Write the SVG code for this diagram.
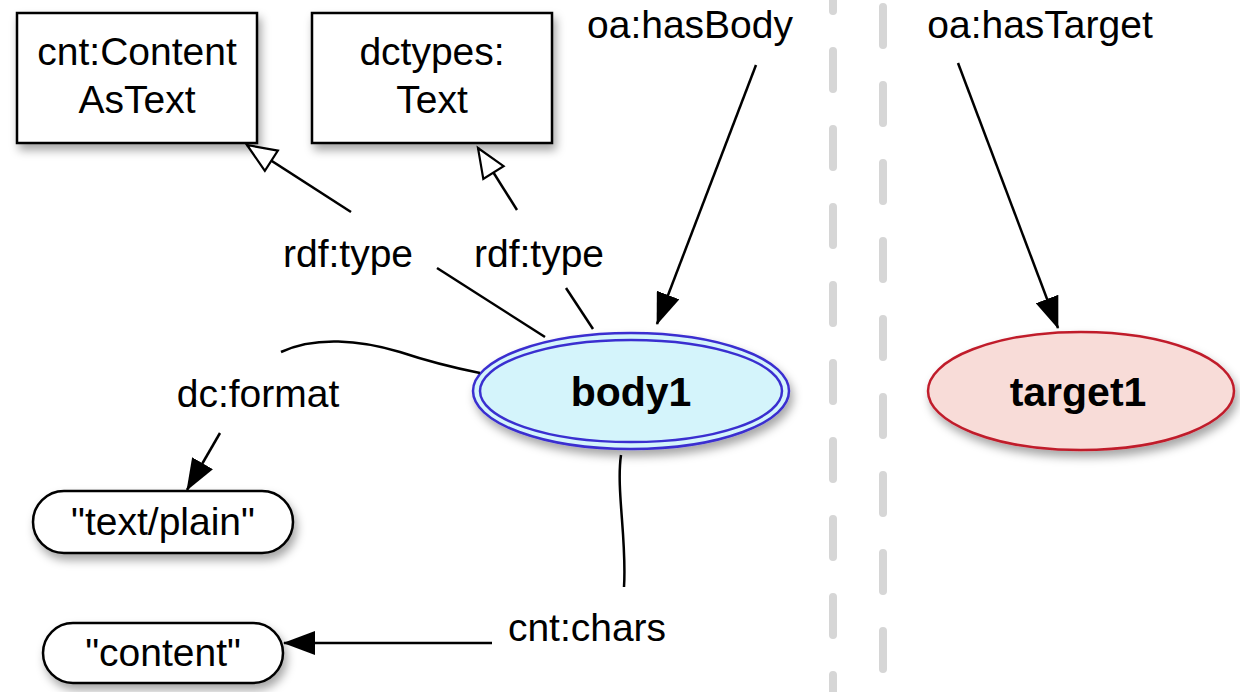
<svg xmlns="http://www.w3.org/2000/svg" width="1240" height="692" viewBox="0 0 1240 692">
<defs>
<style>
text{font-family:"Liberation Sans",Arial,sans-serif;fill:#000;}
.lbl{font-size:39px;text-anchor:middle;}
.bold{font-size:41px;font-weight:bold;text-anchor:middle;}
.edge{fill:none;stroke:#000;stroke-width:2.5;}
.sep{fill:none;stroke:#d6d6d6;stroke-width:8;stroke-linecap:round;stroke-dasharray:38 40;}
.box{fill:#fff;stroke:#000;stroke-width:2.5;}
</style>
<filter id="sh" x="-20%" y="-20%" width="150%" height="160%">
<feDropShadow dx="3" dy="6" stdDeviation="5" flood-color="#000" flood-opacity="0.35"/>
</filter>
<marker id="solid" markerUnits="userSpaceOnUse" viewBox="0 0 32 24" markerWidth="32" markerHeight="24" refX="31" refY="12" orient="auto">
<path d="M0,0 L32,12 L0,24 z" fill="#000"/>
</marker>
<marker id="open" markerUnits="userSpaceOnUse" viewBox="0 0 34 28" markerWidth="34" markerHeight="28" refX="31" refY="14" orient="auto">
<path d="M2,2 L31,14 L2,26 z" fill="#fff" stroke="#000" stroke-width="2.2"/>
</marker>
</defs>
<rect width="1240" height="692" fill="#fff"/>

<g id="separators">
<line class="sep" x1="833" y1="-27" x2="833" y2="700"/>
<line class="sep" x1="883" y1="7" x2="883" y2="700"/>
</g>

<g id="node-ContentAsText">
<rect class="box" x="17" y="13" width="240" height="130" filter="url(#sh)"/>
<text class="lbl" x="137" y="65">cnt:Content</text>
<text class="lbl" x="137" y="113">AsText</text>
</g>
<g id="node-dctypesText">
<rect class="box" x="312" y="13" width="240" height="130" filter="url(#sh)"/>
<text class="lbl" x="432" y="65">dctypes:</text>
<text class="lbl" x="432" y="113">Text</text>
</g>
<g id="node-body1">
<ellipse cx="631" cy="391" rx="158" ry="58" fill="#d4f4fb" stroke="#3a2fd0" stroke-width="2.5" filter="url(#sh)"/>
<ellipse cx="631" cy="391" rx="151" ry="51" fill="none" stroke="#3a2fd0" stroke-width="2.5"/>
<text class="bold" x="631" y="406">body1</text>
</g>
<g id="node-target1">
<ellipse cx="1081" cy="391" rx="153" ry="59" fill="#f8dcd8" stroke="#c01c2c" stroke-width="2.5" filter="url(#sh)"/>
<text class="bold" x="1078" y="406">target1</text>
</g>
<g id="node-textplain">
<rect class="box" x="33" y="491" width="260" height="62" rx="31" ry="31" filter="url(#sh)"/>
<text class="lbl" x="163" y="535">"text/plain"</text>
</g>
<g id="node-content">
<rect class="box" x="43" y="623" width="240" height="60" rx="30" ry="30" filter="url(#sh)"/>
<text class="lbl" x="163" y="666">"content"</text>
</g>

<g id="connectors">
<line class="edge" x1="756" y1="65" x2="657" y2="324" marker-end="url(#solid)"/>
<line class="edge" x1="958" y1="63" x2="1058" y2="328" marker-end="url(#solid)"/>
<line class="edge" x1="351" y1="212" x2="247" y2="145" marker-end="url(#open)"/>
<line class="edge" x1="517" y1="210" x2="478" y2="148" marker-end="url(#open)"/>
<line class="edge" x1="545" y1="337" x2="437" y2="268"/>
<line class="edge" x1="593" y1="329" x2="566" y2="288"/>
<path class="edge" d="M480 373 C455 368 430 362 400 352 C360 340 315 336 281 352"/>
<line class="edge" x1="220" y1="433" x2="187" y2="490" marker-end="url(#solid)"/>
<path class="edge" d="M621 455 C616 490 627 540 624 587"/>
<line class="edge" x1="492" y1="643" x2="284" y2="643" marker-end="url(#solid)"/>
</g>

<g id="edge-labels">
<text class="lbl" x="690" y="38">oa:hasBody</text>
<text class="lbl" x="1040" y="38">oa:hasTarget</text>
<text class="lbl" x="348" y="267">rdf:type</text>
<text class="lbl" x="539" y="267">rdf:type</text>
<text class="lbl" x="258" y="407">dc:format</text>
<text class="lbl" x="587" y="641">cnt:chars</text>
</g>
</svg>
